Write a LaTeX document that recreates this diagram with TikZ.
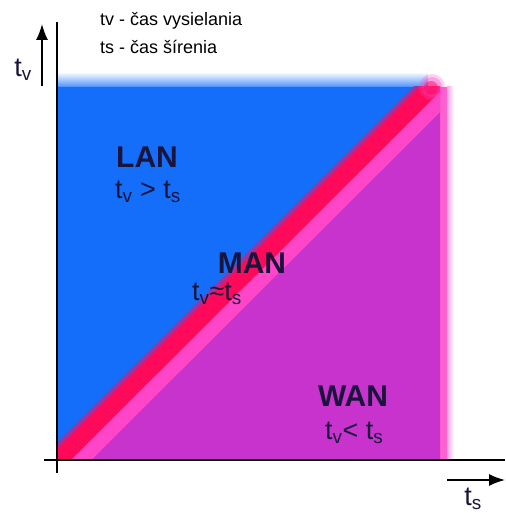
\documentclass[tikz,border=0pt]{standalone}
\usepackage{fontspec}
\setmainfont{Liberation Sans}
\usetikzlibrary{arrows.meta}
\definecolor{lanblue}{RGB}{20,110,250}
\definecolor{wanpurple}{RGB}{200,50,205}
\definecolor{manred}{RGB}{255,10,90}
\definecolor{manpink}{RGB}{255,70,200}
\definecolor{labeltext}{RGB}{25,20,60}
\begin{document}
\begin{tikzpicture}[x=1pt,y=-1pt,
  region/.style={font=\fontsize{30}{32}\selectfont\bfseries, text=labeltext, inner sep=0pt},
  relation/.style={font=\fontsize{27}{29}\selectfont, text=labeltext, inner sep=0pt, anchor=west},
  legend/.style={font=\fontsize{18}{20}\selectfont, inner sep=0pt, anchor=west},
  axisarrow/.style={line width=1.6pt, -{Latex[length=16pt,width=12pt]}}]
\useasboundingbox (0,0) rectangle (505,513);
% soft edges round the square
\shade[top color=white, bottom color=lanblue!75] (58,72) rectangle (428,87);
\fill[manpink!85] (440,87) rectangle (447,460);
\shade[left color=manpink!50, right color=white] (447,87) rectangle (454,460);
% the two regions
\fill[lanblue] (58,460) -- (58,87) -- (440,87) -- cycle;
\fill[wanpurple] (58,460) -- (440,460) -- (440,87) -- cycle;
% the band between them
\begin{scope}
\clip (58,87) rectangle (440,460);
\draw[line width=30pt, manpink] (60,470) -- (454,77);
\draw[line width=5pt, lanblue!45!manred] (33,470) -- (427,77);
\draw[line width=18pt, manred] (48,470) -- (442,77);
\end{scope}
\fill[manpink, opacity=0.25] (432,87) circle (13);
\fill[manpink, opacity=0.35] (432,87) circle (10);
\fill[manred, opacity=0.5] (431,88) circle (7);
% axes
\coordinate (vtop) at (57,22);
\coordinate (vbot) at (57,473);
\coordinate (hleft) at (44,460);
\coordinate (hright) at (505,460);
\draw[line width=1.2pt] (vtop) -- (vbot);
\draw[line width=1.2pt] (hleft) -- (hright);
\coordinate (tvfoot) at (42,86);
\coordinate (tvtip) at (42,24);
\coordinate (tsfoot) at (447,480);
\coordinate (tstip) at (505,480);
\draw[axisarrow] (tvfoot) -- (tvtip);
\draw[axisarrow] (tsfoot) -- (tstip);
\node[relation, anchor=center] (tvlabel) at (23,70) {t\textsubscript{v}};
\node[relation, anchor=center] (tslabel) at (473,499) {t\textsubscript{s}};
% legend
\node[legend] (legendtv) at (100,21) {tv - čas vysielania};
\node[legend] (legendts) at (100,47) {ts - čas šírenia};
% labels of the regions
\node[region] (lan) at (147,157) {LAN};
\node[relation] (lanrel) at (115,192) {t\textsubscript{v} > t\textsubscript{s}};
\node[region] (man) at (252,263) {MAN};
\node[relation] (manrel) at (192,294) {t\textsubscript{v}≈t\textsubscript{s}};
\node[region] (wan) at (353,396) {WAN};
\node[relation] (wanrel) at (325,433) {t\textsubscript{v}< t\textsubscript{s}};
\end{tikzpicture}
\end{document}
